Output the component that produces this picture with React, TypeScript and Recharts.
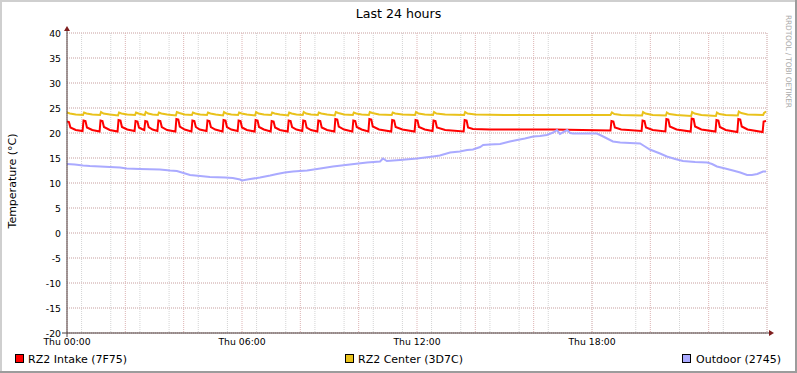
import { LineChart, Line, XAxis, YAxis, CartesianGrid } from "recharts";

// [minute since Thu 00:00, °C]
const intake: [number, number][] = [
  [0, 22.3], [4, 22.2], [7, 21.1], [18, 20.6], [32, 20.4],
  [34, 22.5], [38, 22.4], [41, 21.1], [52, 20.6], [67, 20.3],
  [69, 22.5], [73, 22.4], [76, 21.2], [88, 20.6], [104, 20.3],
  [106, 22.6], [110, 22.5], [113, 21.2], [124, 20.7], [139, 20.4],
  [141, 22.4], [145, 22.3], [148, 21.1], [154, 20.8], [159, 20.6],
  [161, 22.4], [165, 22.3], [168, 21.2], [176, 20.7], [186, 20.4],
  [188, 22.5], [192, 22.4], [195, 21.2], [206, 20.6], [223, 20.3],
  [225, 22.8], [229, 22.7], [232, 21.3], [242, 20.7], [256, 20.3],
  [258, 22.5], [262, 22.4], [265, 21.2], [273, 20.7], [287, 20.4],
  [289, 22.5], [293, 22.4], [296, 21.2], [305, 20.7], [320, 20.3],
  [322, 22.6], [326, 22.5], [329, 21.2], [338, 20.7], [351, 20.4],
  [353, 22.5], [357, 22.4], [360, 21.1], [370, 20.6], [386, 20.3],
  [388, 22.6], [392, 22.5], [395, 21.2], [405, 20.7], [419, 20.3],
  [421, 22.4], [425, 22.3], [428, 21.1], [438, 20.6], [454, 20.3],
  [456, 22.5], [460, 22.4], [463, 21.2], [472, 20.7], [484, 20.4],
  [486, 22.5], [490, 22.4], [493, 21.1], [502, 20.6], [515, 20.3],
  [517, 22.5], [521, 22.4], [524, 21.1], [535, 20.6], [550, 20.3],
  [552, 22.8], [556, 22.7], [559, 21.3], [570, 20.7], [587, 20.3],
  [589, 22.5], [593, 22.4], [596, 21.2], [606, 20.7], [620, 20.3],
  [622, 22.8], [626, 22.7], [629, 21.3], [642, 20.7], [667, 20.3],
  [669, 22.6], [673, 22.5], [676, 21.2], [690, 20.7], [715, 20.3],
  [717, 22.6], [721, 22.5], [724, 21.2], [736, 20.7], [752, 20.4],
  [754, 22.5], [758, 22.4], [761, 21.1], [778, 20.6], [816, 20.3],
  [818, 22.6], [822, 22.5], [825, 21.1], [835, 20.8], [870, 20.7], [940, 20.7], [1000, 20.7], [1060, 20.6], [1118, 20.5],
  [1120, 22.4], [1124, 22.3], [1127, 21.1], [1140, 20.7], [1182, 20.4],
  [1184, 22.5], [1188, 22.4], [1191, 21.1], [1205, 20.6], [1231, 20.3],
  [1233, 22.8], [1237, 22.7], [1240, 21.3], [1254, 20.7], [1283, 20.3],
  [1285, 22.9], [1289, 22.8], [1292, 21.3], [1305, 20.7], [1334, 20.3],
  [1336, 22.6], [1340, 22.5], [1343, 21.2], [1355, 20.6], [1379, 20.2],
  [1381, 22.8], [1385, 22.7], [1388, 21.3], [1400, 20.7], [1431, 20.2],
  [1433, 22.3], [1438, 22.4],
];

const center: [number, number][] = [
  [0, 24.1], [6, 23.9], [18, 23.7], [33, 23.6],
  [35, 24.1], [40, 23.9], [52, 23.7], [68, 23.6],
  [70, 24.2], [75, 23.9], [88, 23.7], [105, 23.5],
  [107, 24.1], [112, 23.9], [124, 23.7], [140, 23.6],
  [142, 24.1], [147, 23.9], [155, 23.7], [160, 23.6],
  [162, 24.2], [167, 23.9], [176, 23.7], [187, 23.6],
  [189, 24.1], [194, 23.9], [206, 23.7], [224, 23.5],
  [226, 24.2], [231, 24.0], [242, 23.7], [257, 23.6],
  [259, 24.1], [264, 23.9], [274, 23.7], [288, 23.6],
  [290, 24.1], [295, 23.9], [306, 23.7], [321, 23.5],
  [323, 24.2], [328, 23.9], [338, 23.7], [352, 23.6],
  [354, 24.1], [359, 23.9], [370, 23.7], [387, 23.5],
  [389, 24.2], [394, 23.9], [405, 23.7], [420, 23.6],
  [422, 24.1], [427, 23.9], [438, 23.7], [455, 23.5],
  [457, 24.1], [462, 23.9], [472, 23.7], [485, 23.6],
  [487, 24.2], [492, 23.9], [502, 23.7], [516, 23.6],
  [518, 24.1], [523, 23.9], [535, 23.7], [551, 23.5],
  [553, 24.2], [558, 24.0], [570, 23.7], [588, 23.6],
  [590, 24.1], [595, 23.9], [606, 23.7], [621, 23.6],
  [623, 24.2], [628, 24.0], [642, 23.7], [668, 23.6],
  [670, 24.1], [675, 23.9], [690, 23.7], [716, 23.6],
  [718, 24.2], [723, 23.9], [736, 23.7], [753, 23.6],
  [755, 24.2], [760, 23.9], [778, 23.7], [817, 23.6],
  [819, 24.2], [824, 23.9], [840, 23.7], [900, 23.6], [1000, 23.6], [1118, 23.6],
  [1121, 24.1], [1126, 23.8], [1140, 23.6], [1183, 23.5],
  [1185, 24.2], [1190, 23.9], [1205, 23.6], [1232, 23.5],
  [1234, 24.1], [1239, 23.8], [1254, 23.6], [1284, 23.4],
  [1286, 24.2], [1291, 23.9], [1305, 23.6], [1335, 23.4],
  [1337, 24.1], [1342, 23.8], [1355, 23.6], [1380, 23.5],
  [1382, 24.3], [1387, 24.0], [1400, 23.7], [1432, 23.6],
  [1434, 24.0], [1438, 24.3],
];

const outdoor: [number, number][] = [
  [0, 13.8], [16, 13.7], [33, 13.5], [47, 13.4], [68, 13.3], [88, 13.2], [109, 13.1],
  [123, 12.9], [150, 12.8], [191, 12.7], [212, 12.5], [226, 12.4], [243, 11.9],
  [253, 11.6], [274, 11.4], [294, 11.2], [325, 11.1], [341, 11.0], [356, 10.7],
  [360, 10.5], [377, 10.8], [397, 11.1], [418, 11.5], [432, 11.8], [448, 12.1],
  [465, 12.3], [479, 12.4], [494, 12.5], [521, 12.9], [547, 13.3], [582, 13.7],
  [617, 14.1], [644, 14.3], [650, 14.9], [658, 14.4], [685, 14.6], [720, 14.9],
  [753, 15.3], [767, 15.5], [788, 16.1], [808, 16.3], [823, 16.6], [835, 16.7],
  [850, 17.2], [856, 17.6], [870, 17.7], [891, 17.8], [911, 18.3], [926, 18.6],
  [942, 18.9], [959, 19.3], [973, 19.4], [987, 19.6], [1000, 20.1], [1008, 20.6],
  [1014, 19.8], [1029, 20.6], [1035, 20.0], [1041, 19.9], [1066, 19.9], [1090, 19.9],
  [1101, 19.4], [1111, 18.9], [1123, 18.3], [1138, 18.1], [1158, 18.0], [1179, 17.9],
  [1189, 17.3], [1199, 16.7], [1220, 15.9], [1234, 15.3], [1251, 14.8], [1267, 14.4],
  [1292, 14.2], [1317, 14.1], [1327, 13.8], [1337, 13.3], [1354, 12.9], [1370, 12.5],
  [1385, 12.1], [1399, 11.6], [1409, 11.6], [1420, 11.8], [1432, 12.3], [1438, 12.3],
];

const xLabelTicks = [0, 360, 720, 1080];
const yLabelTicks = [-20, -15, -10, -5, 0, 5, 10, 15, 20, 25, 30, 35, 40];

const minorX = Array.from({ length: 49 }, (_, i) => i * 30);
const majorX = Array.from({ length: 13 }, (_, i) => i * 120);
const minorY = Array.from({ length: 61 }, (_, i) => i - 20);

const toRows = (pts: [number, number][]) => pts.map(([t, v]) => ({ t, v }));

const FONT = "'DejaVu Sans', sans-serif";

function XTick(props: any) {
  const { x, y, payload } = props;
  const h = Math.floor(payload.value / 60) % 24;
  return (
    <text x={x} y={y + 4} textAnchor="middle" fontSize={9.3} fontFamily={FONT} fill="#000">
      {`Thu ${String(h).padStart(2, "0")}:00`}
    </text>
  );
}

function YTick(props: any) {
  const { x, y, payload } = props;
  return (
    <text x={x} y={y + 3.5} textAnchor="end" fontSize={9.3} fontFamily={FONT} fill="#000">
      {payload.value}
    </text>
  );
}

export default function App() {
  return (
    <div style={{ position: "relative", width: 797, height: 373, background: "#fff", fontFamily: FONT }}>
      <style>{"body{margin:0}"}</style>
      <LineChart width={797} height={373} margin={{ top: 33, right: 30, bottom: 20, left: 27 }}>
        <CartesianGrid stroke="#D4D4D4" strokeDasharray="1 1" verticalValues={minorX} horizontalValues={minorY} />
        <CartesianGrid stroke="#DDB4B4" strokeDasharray="1 1" verticalValues={majorX} horizontalValues={yLabelTicks} />
        <XAxis
          type="number"
          dataKey="t"
          domain={[0, 1440]}
          ticks={xLabelTicks}
          height={20}
          tickSize={0}
          tickMargin={8}
          tick={<XTick />}
          axisLine={{ stroke: "#4A3C3C" }}
        />
        <YAxis
          type="number"
          domain={[-20, 40]}
          ticks={yLabelTicks}
          width={40}
          tickSize={0}
          tickMargin={6}
          tick={<YTick />}
          axisLine={{ stroke: "#4A3C3C" }}
        />
        <Line data={toRows(intake)} dataKey="v" type="linear" stroke="#FF0000" strokeWidth={2} dot={false} isAnimationActive={false} />
        <Line data={toRows(center)} dataKey="v" type="linear" stroke="#E9C21B" strokeWidth={2} dot={false} isAnimationActive={false} />
        <Line data={toRows(outdoor)} dataKey="v" type="linear" stroke="#AAAAFF" strokeWidth={2} dot={false} isAnimationActive={false} />
      </LineChart>
      <svg width={797} height={373} style={{ position: "absolute", left: 0, top: 0, pointerEvents: "none" }}>
        {/* axis extensions and arrows */}
        <line x1={67} y1={333} x2={67} y2={337} stroke="#4A3C3C" />
        <line x1={62} y1={333} x2={67} y2={333} stroke="#4A3C3C" />
        <line x1={67} y1={33} x2={67} y2={29} stroke="#4A3C3C" />
        <line x1={767} y1={333} x2={770} y2={333} stroke="#4A3C3C" />
        <polygon points="64,31 70,31 67,26" fill="#7F1F1F" />
        <polygon points="769,330 769,336 774,333" fill="#7F1F1F" />
        <text x={398.5} y={18.3} textAnchor="middle" fontSize={12.6} fontFamily={FONT} fill="#000">Last 24 hours</text>
        <text transform="translate(16,181) rotate(-90)" textAnchor="middle" fontSize={11} fontFamily={FONT} fill="#000">Temperature (°C)</text>
        <text transform="translate(786,15) rotate(90)" fontSize={7.5} fontFamily={FONT} fill="#AAAAAA" textLength={93} lengthAdjust="spacing">RRDTOOL / TOBI OETIKER</text>
        <rect x={15.5} y={354.5} width={8} height={8} fill="#FF0000" stroke="#000" />
        <text x={28} y={363} fontSize={11} fontFamily={FONT} fill="#000">RZ2 Intake (7F75)</text>
        <rect x={345.5} y={354.5} width={8} height={8} fill="#E9C21B" stroke="#000" />
        <text x={358} y={363} fontSize={11} fontFamily={FONT} fill="#000">RZ2 Center (3D7C)</text>
        <rect x={682.5} y={354.5} width={8} height={8} fill="#AAAAFF" stroke="#000" />
        <text x={696} y={363} fontSize={11} fontFamily={FONT} fill="#000">Outdoor (2745)</text>
        {/* frame shading */}
        <rect x={0} y={0} width={797} height={2} fill="#CFCFCF" />
        <rect x={0} y={0} width={2} height={373} fill="#CFCFCF" />
        <rect x={0} y={371} width={797} height={2} fill="#9C9C9C" />
        <rect x={795} y={0} width={2} height={373} fill="#9C9C9C" />
      </svg>
    </div>
  );
}
